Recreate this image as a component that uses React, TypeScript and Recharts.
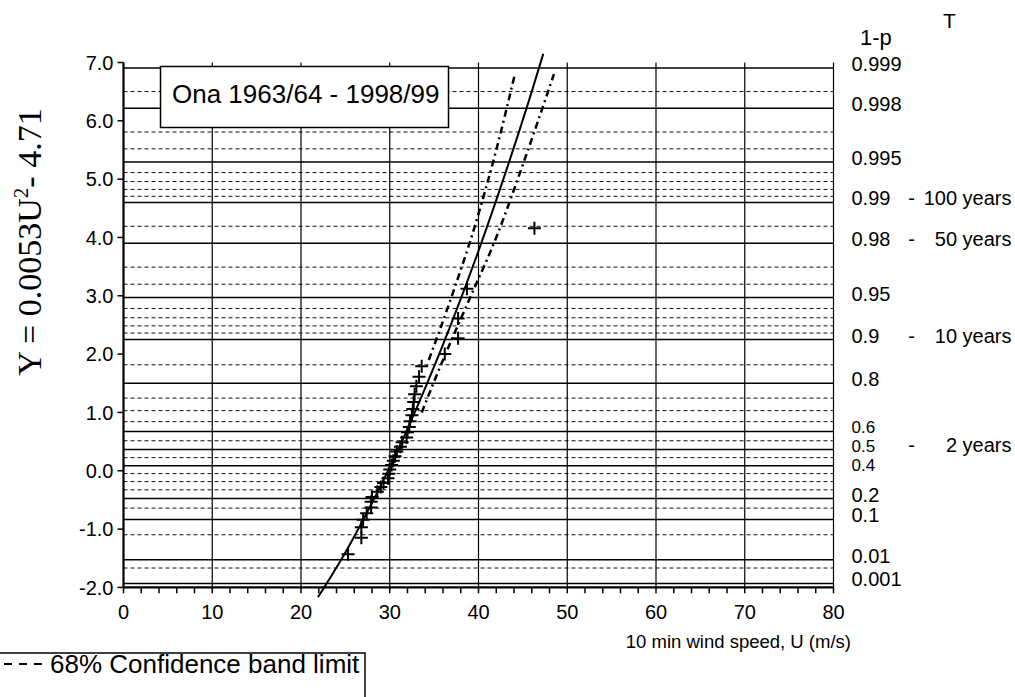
import { ComposedChart, Line, Scatter, XAxis, YAxis, ReferenceLine } from 'recharts'

const FONT = '"Liberation Sans", Arial, sans-serif'
const SERIF = '"Liberation Serif", "Times New Roman", serif'

// Gumbel probability paper: reduced variate of a non-exceedance probability
const gumbel = (p: number) => -Math.log(-Math.log(p))

const X_TICKS = [
  0, 2, 4, 6, 8, 10, 12, 14, 16, 18, 20, 22, 24, 26, 28, 30, 32, 34, 36, 38, 40,
  42, 44, 46, 48, 50, 52, 54, 56, 58, 60, 62, 64, 66, 68, 70, 72, 74, 76, 78, 80,
]
const X_GRID = [10, 20, 30, 40, 50, 60, 70, 80]
const Y_TICKS = [-2, -1, 0, 1, 2, 3, 4, 5, 6, 7]

// solid grid lines, labelled on the right
const PROB_SOLID = [0.999, 0.998, 0.995, 0.99, 0.98, 0.95, 0.9, 0.8, 0.6, 0.5, 0.4, 0.2, 0.1, 0.01, 0.001]
const PROB_LABELS = ['0.999', '0.998', '0.995', '0.99', '0.98', '0.95', '0.9', '0.8', '0.6', '0.5', '0.4', '0.2', '0.1', '0.01', '0.001']
const T_LABELS = ['', '', '', '100 years', '50 years', '', '10 years', '', '', '2 years', '', '', '', '', '']
// dashed grid lines in between
const PROB_DASHED = [
  0.9985, 0.997, 0.996, 0.994, 0.993, 0.992, 0.991, 0.985, 0.97, 0.96, 0.94, 0.93, 0.92,
  0.91, 0.85, 0.75, 0.7, 0.65, 0.55, 0.45, 0.35, 0.3, 0.25, 0.15, 0.05, 0.005,
]

// annual maxima, 10 min wind speed (m/s) vs reduced variate
const OBS_U = [
  25.3, 26.8, 26.8, 27.0, 27.4, 27.9, 27.9, 28.0, 28.6, 29.0, 29.3, 29.8, 29.9, 30.0, 30.2, 30.4, 30.6, 30.8,
  31.2, 31.4, 31.9, 32.0, 32.2, 32.3, 32.5, 32.6, 32.7, 32.8, 33.0, 33.3, 33.6, 36.2, 37.7, 37.7, 38.7, 46.3,
]
const OBS_Y = [
  -1.43, -1.15, -0.97, -0.84, -0.73, -0.63, -0.53, -0.45, -0.36, -0.28, -0.21, -0.13, -0.05, 0.02, 0.1, 0.17, 0.25, 0.33,
  0.41, 0.49, 0.57, 0.66, 0.75, 0.85, 0.95, 1.06, 1.18, 1.31, 1.45, 1.61, 1.79, 2.0, 2.27, 2.61, 3.12, 4.16,
]

// fitted curve
const FIT_U = [21.9, 25, 28, 31, 34, 37, 40, 43, 46, 47.3]
const FIT_Y = [-2.17, -1.4, -0.55, 0.38, 1.42, 2.55, 3.77, 5.09, 6.5, 7.15]

// 68% confidence band limits
const CB_LEFT_U = [34.4, 37.0, 39.6, 42.0, 44.1]
const CB_LEFT_Y = [1.9, 3.0, 4.2, 5.5, 6.8]
const CB_RIGHT_U = [33.6, 36.0, 39.0, 42.0, 45.0, 48.5]
const CB_RIGHT_Y = [1.0, 1.9, 2.95, 4.0, 5.25, 6.8]

const obsData = OBS_U.map((u, i) => ({ u, y: OBS_Y[i] }))
const fitData = FIT_U.map((u, i) => ({ u, y: FIT_Y[i] }))
const cbLeft = CB_LEFT_U.map((u, i) => ({ u, y: CB_LEFT_Y[i] }))
const cbRight = CB_RIGHT_U.map((u, i) => ({ u, y: CB_RIGHT_Y[i] }))

function XTick({ x, y, payload }: any) {
  if (payload.value % 10 !== 0) return <g />
  return (
    <text x={x} y={y} dy="0.72em" textAnchor="middle" fill="#000" fontSize={20} fontFamily={FONT}>
      {payload.value}
    </text>
  )
}

function ProbTick({ x, y, payload }: any) {
  const i = PROB_SOLID.findIndex((p) => Math.abs(gumbel(p) - payload.value) < 1e-6)
  if (i < 0) return <g />
  const lbl = PROB_LABELS[i]
  // 0.6 / 0.5 / 0.4 sit very close together: smaller and spread a little
  const tight = lbl === '0.6' || lbl === '0.5' || lbl === '0.4'
  const ty = y + 3 + (lbl === '0.6' ? -2 : lbl === '0.4' ? 2 : 0)
  return (
    <g fill="#000" fontSize={tight ? 17 : 20} fontFamily={FONT}>
      <text x={x + 18} y={ty}>{lbl}</text>
      {T_LABELS[i] && (
        <>
          <text x={x + 78} y={ty} fontSize={20} textAnchor="middle">-</text>
          <text x={x + 178} y={ty} fontSize={20} textAnchor="end">{T_LABELS[i]}</text>
        </>
      )}
    </g>
  )
}

function XTitle() {
  return (
    <text x={851} y={648} textAnchor="end" fill="#000" fontSize={18.5} fontFamily={FONT}>
      10 min wind speed, U (m/s)
    </text>
  )
}

function YTitle() {
  return (
    <text transform="translate(41,242) rotate(-90)" textAnchor="middle" fill="#000" fontSize={34} fontFamily={SERIF}>
      Y = 0.0053U<tspan dy={-13} fontSize={21}>2</tspan>
      <tspan dy={13}>- 4.71</tspan>
    </text>
  )
}

function Plus({ cx, cy }: any) {
  return <path d={`M${cx - 6.5},${cy}H${cx + 6.5}M${cx},${cy - 6.5}V${cy + 6.5}`} stroke="#000" strokeWidth={2} />
}

export default function App() {
  return (
    <div style={{ position: 'absolute', left: 0, top: 0, width: 1015, height: 697, background: '#fff', overflow: 'hidden' }}>
      <ComposedChart width={1015} height={697} margin={{ top: 45, right: 0, bottom: 0, left: 0 }}>
        <XAxis
          type="number"
          dataKey="u"
          domain={[0, 80]}
          allowDataOverflow
          ticks={X_TICKS}
          interval={0}
          height={95}
          axisLine={false}
          tickLine={false}
          tickSize={0}
          tickMargin={3}
          tick={<XTick />}
          label={<XTitle />}
        />
        <YAxis
          type="number"
          domain={[-2.25, 7.3]}
          allowDataOverflow
          ticks={Y_TICKS}
          interval={0}
          width={123.5}
          axisLine={false}
          tickLine={{ stroke: '#000', strokeWidth: 1.5 }}
          tickSize={6}
          tickMargin={4}
          tickFormatter={(v: number) => v.toFixed(1)}
          tick={{ fill: '#000', fontSize: 20, fontFamily: FONT }}
          label={<YTitle />}
        />
        <YAxis
          yAxisId="r"
          orientation="right"
          type="number"
          domain={[-2.25, 7.3]}
          allowDataOverflow
          ticks={PROB_SOLID.map(gumbel)}
          interval={0}
          width={181.5}
          axisLine={false}
          tickLine={false}
          tickSize={0}
          tickMargin={0}
          tick={<ProbTick />}
        />

        {PROB_DASHED.map((p) => (
          <ReferenceLine key={'d' + p} y={gumbel(p)} stroke="#111" strokeWidth={1} strokeDasharray="4 3" />
        ))}
        {PROB_SOLID.map((p) => (
          <ReferenceLine key={'s' + p} y={gumbel(p)} stroke="#000" strokeWidth={1.5} />
        ))}
        {X_GRID.map((u) => (
          <ReferenceLine key={'v' + u} segment={[{ x: u, y: -2 }, { x: u, y: 7 }]} stroke="#000" strokeWidth={1.2} />
        ))}
        {X_TICKS.map((u) => (
          <ReferenceLine key={'t' + u} segment={[{ x: u, y: -2 }, { x: u, y: -2.1 }]} stroke="#000" strokeWidth={1.5} />
        ))}
        <ReferenceLine segment={[{ x: 0, y: -2 }, { x: 80, y: -2 }]} stroke="#000" strokeWidth={2.2} />
        <ReferenceLine segment={[{ x: 0, y: -2 }, { x: 0, y: 7 }]} stroke="#000" strokeWidth={2.2} />

        <Line data={cbLeft} dataKey="y" type="monotone" stroke="#000" strokeWidth={2.5} strokeDasharray="7 4 2 4" dot={false} isAnimationActive={false} />
        <Line data={cbRight} dataKey="y" type="monotone" stroke="#000" strokeWidth={2.5} strokeDasharray="7 4 2 4" dot={false} isAnimationActive={false} />
        <Line data={fitData} dataKey="y" type="monotone" stroke="#000" strokeWidth={2} dot={false} isAnimationActive={false} />
        <Scatter data={obsData} dataKey="y" shape={<Plus />} isAnimationActive={false} />
      </ComposedChart>

      <svg width={1015} height={697} style={{ position: 'absolute', left: 0, top: 0, pointerEvents: 'none' }}>
        <g fontFamily={FONT} fill="#000">
          <rect x={160.5} y={66.5} width={288} height={61} fill="#fff" stroke="#000" strokeWidth={1.5} />
          <text x={172} y={103} fontSize={26}>Ona 1963/64 - 1998/99</text>
          <text x={860} y={45} fontSize={22}>1-p</text>
          <text x={943} y={28} fontSize={21}>T</text>
          <rect x={-2} y={653} width={367} height={60} fill="#fff" stroke="#000" strokeWidth={1.5} />
          <line x1={4} y1={664} x2={46} y2={664} stroke="#000" strokeWidth={2} strokeDasharray="8 7" />
          <text x={50} y={673} fontSize={26}>68% Confidence band limit</text>
        </g>
      </svg>
    </div>
  )
}
